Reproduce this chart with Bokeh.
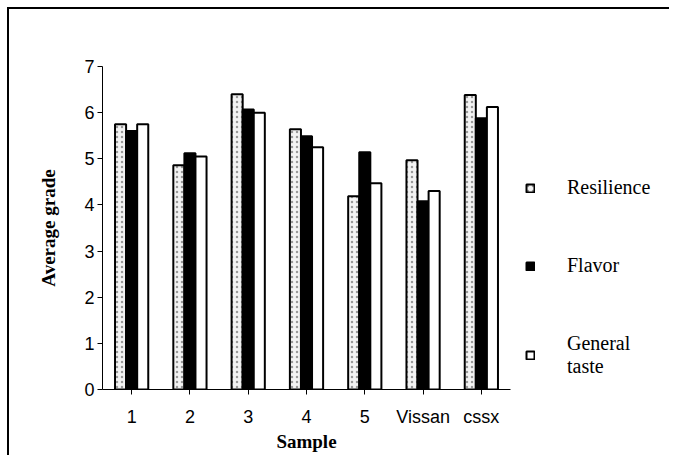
from bokeh.plotting import figure
from bokeh.models import FactorRange, Range1d, Legend, LegendItem, ColumnDataSource, FixedTicker
from bokeh.layouts import row
from bokeh.transform import dodge
from bokeh.embed import file_html
from bokeh.resources import INLINE

samples = ["1", "2", "3", "4", "5", "Vissan", "cssx"]
resilience = [5.75, 4.86, 6.40, 5.64, 4.19, 4.97, 6.38]
flavor = [5.60, 5.12, 6.07, 5.49, 5.14, 4.08, 5.88]
general_taste = [5.75, 5.05, 6.00, 5.25, 4.47, 4.30, 6.12]
series_labels = ["Resilience", "Flavor", "General\ntaste"]

src = ColumnDataSource(dict(x=samples, r=resilience, f=flavor, g=general_taste))

res_style = dict(fill_color="#f3f3f3", line_color="black", line_width=2,
                 hatch_pattern="dot", hatch_color="#9a9a9a", hatch_scale=5, hatch_weight=1)
fla_style = dict(fill_color="black", line_color="black", line_width=2)
gen_style = dict(fill_color="white", line_color="black", line_width=2)

H = 446
p = figure(width=511, height=H, x_range=FactorRange(*samples, range_padding=0),
           y_range=(0, 7), output_backend="svg", toolbar_location=None,
           min_border_left=93, min_border_right=10, min_border_top=57, min_border_bottom=66)
p.outline_line_color = None
p.grid.grid_line_color = None

bw = 0.19
p.vbar(x=dodge("x", -bw, range=p.x_range), top="r", width=bw, source=src, **res_style)
p.vbar(x=dodge("x", 0, range=p.x_range), top="f", width=bw, source=src, **fla_style)
p.vbar(x=dodge("x", bw, range=p.x_range), top="g", width=bw, source=src, **gen_style)

p.yaxis.ticker = FixedTicker(ticks=[0, 1, 2, 3, 4, 5, 6, 7])
p.yaxis.minor_tick_line_color = None
p.yaxis.major_tick_in = 0
p.yaxis.major_tick_out = 5
p.yaxis.major_label_text_font = "Liberation Sans"
p.yaxis.major_label_text_font_size = "18px"
p.yaxis.major_label_text_color = "black"
p.yaxis.major_label_standoff = 3
p.yaxis.axis_label = "Average grade"
p.yaxis.axis_label_text_font = "Liberation Serif"
p.yaxis.axis_label_text_font_style = "bold"
p.yaxis.axis_label_text_font_size = "19px"
p.yaxis.axis_label_text_color = "black"
p.yaxis.axis_label_standoff = 22

p.xaxis.major_tick_in = 0
p.xaxis.major_tick_out = 5
p.xaxis.major_label_text_font = "Liberation Sans"
p.xaxis.major_label_text_font_size = "18px"
p.xaxis.major_label_text_color = "black"
p.xaxis.major_label_standoff = 12
p.xaxis.axis_label = "Sample"
p.xaxis.axis_label_text_font = "Liberation Serif"
p.xaxis.axis_label_text_font_style = "bold"
p.xaxis.axis_label_text_font_size = "19px"
p.xaxis.axis_label_text_color = "black"
p.xaxis.axis_label_standoff = 1
p.axis.axis_line_color = "black"
p.axis.axis_line_width = 1
p.axis.major_tick_line_color = "black"

# legend panel (proxy renderers carry only the styles; their single row has no height)
pl = figure(width=149, height=H, x_range=Range1d(0, 1), y_range=Range1d(0, 1),
            x_axis_type=None, y_axis_type=None, output_backend="svg", toolbar_location=None,
            min_border_left=0, min_border_right=0, min_border_top=0, min_border_bottom=0)
pl.outline_line_color = None
proxy = ColumnDataSource(dict(x=[float("nan")], top=[float("nan")]))
l1 = pl.vbar(x="x", top="top", width=0.1, source=proxy, **res_style)
l2 = pl.vbar(x="x", top="top", width=0.1, source=proxy, **fla_style)
l3 = pl.vbar(x="x", top="top", width=0.1, source=proxy, **gen_style)

legend = Legend(items=[LegendItem(label=series_labels[0], renderers=[l1]),
                       LegendItem(label=series_labels[1], renderers=[l2]),
                       LegendItem(label=series_labels[2], renderers=[l3])],
                location=(5, 11))
legend.border_line_color = None
legend.background_fill_color = None
legend.padding = 0
legend.margin = 0
legend.spacing = 55
legend.glyph_width = 10
legend.glyph_height = 10
legend.label_standoff = 32
legend.label_text_font = "Liberation Serif"
legend.label_text_font_size = "20px"
legend.label_text_color = "black"
pl.add_layout(legend)

layout = row(p, pl, styles={"margin-left": "7px", "margin-top": "7px",
                            "border-left": "2px solid black", "border-top": "2px solid black"})
open("out.html", "w").write(file_html(layout, INLINE))
